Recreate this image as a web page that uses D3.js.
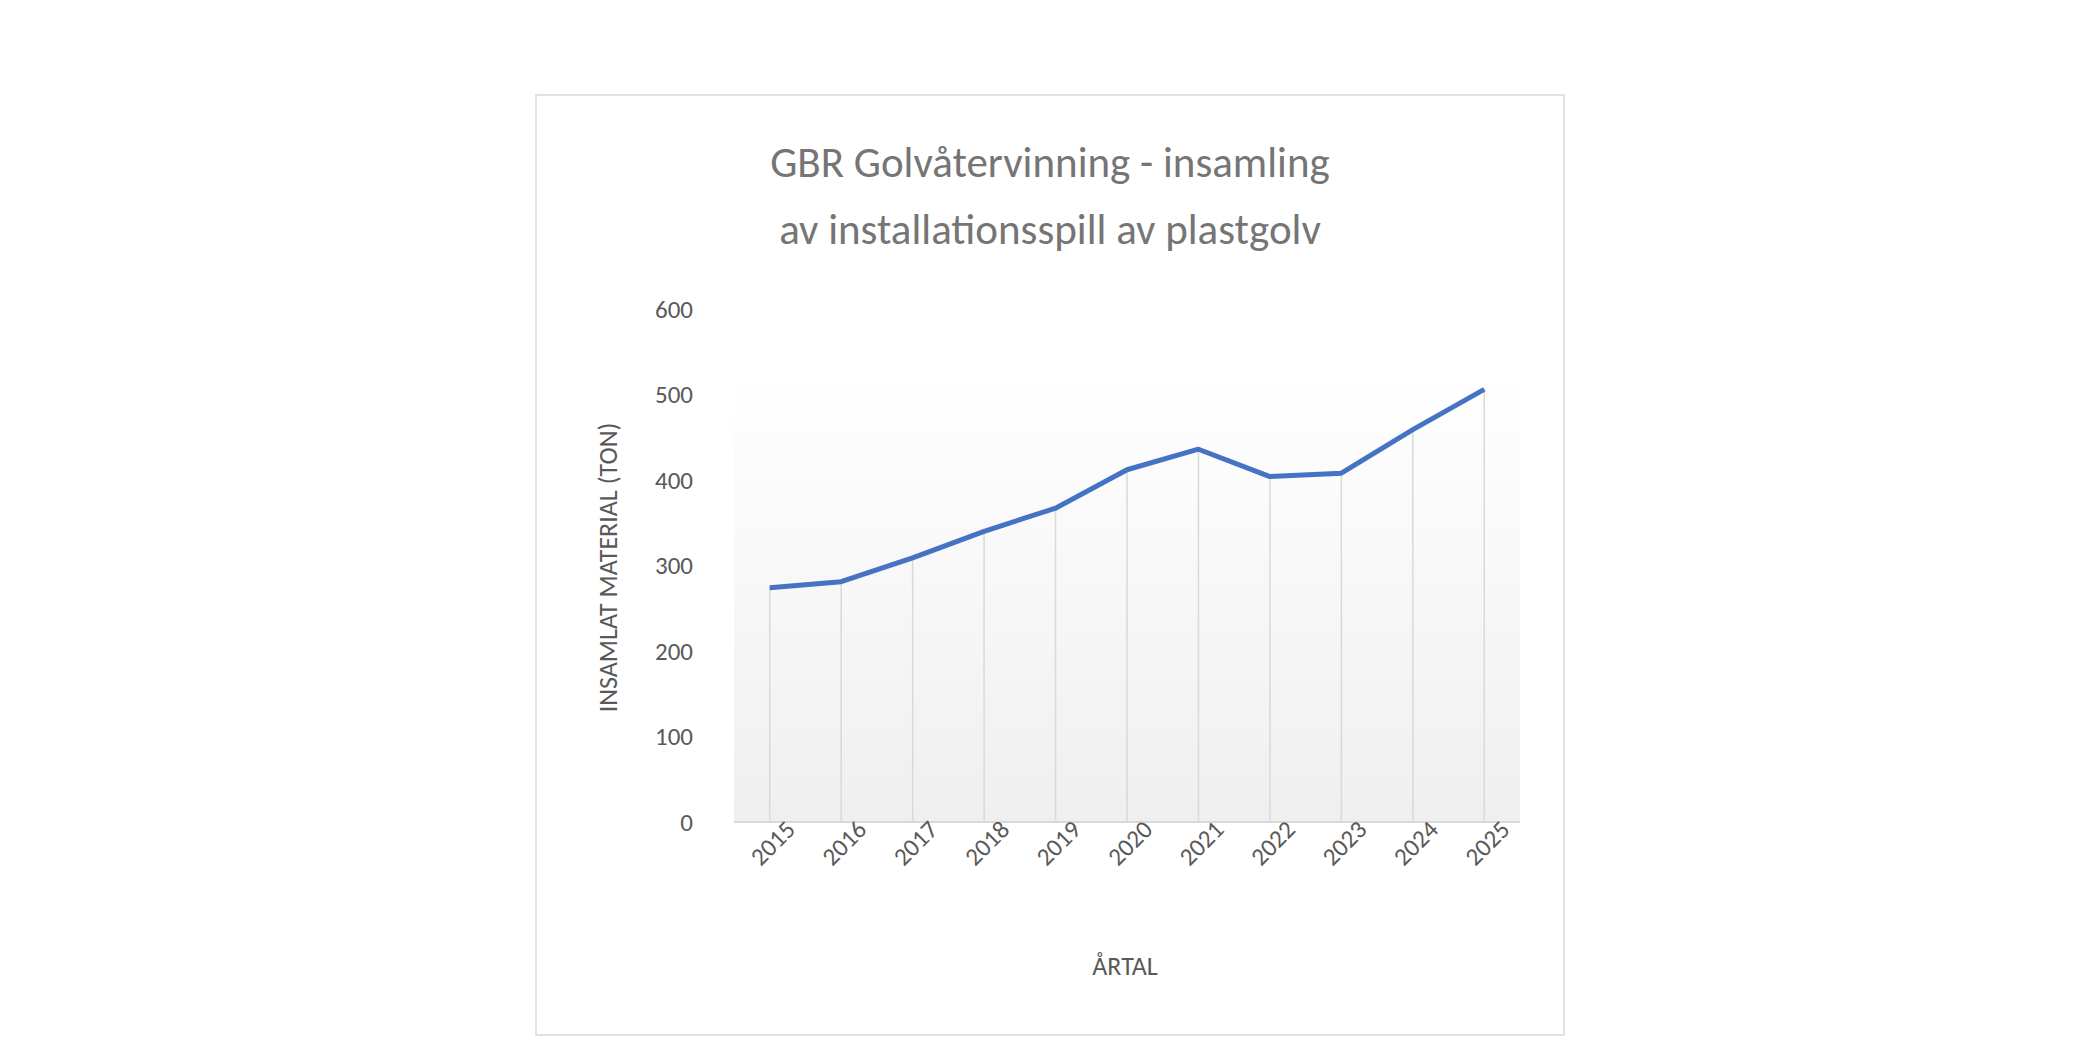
<!DOCTYPE html>
<html><head><meta charset="utf-8">
<script src="https://cdn.jsdelivr.net/npm/d3@7"></script>
<style>body{margin:0;background:#fff}text{font-family:Calibri,Carlito,"Open Sans",sans-serif}</style>
</head><body>
<svg id="chart" width="2100" height="1050"></svg>
<script>
const years = ["2015","2016","2017","2018","2019","2020","2021","2022","2023","2024","2025"];
const tons = [274, 281, 309, 340, 367, 412, 436, 404, 408, 459, 506];
const yTicks = [0, 100, 200, 300, 400, 500, 600];
const titleLines = ["GBR Golvåtervinning - insamling", "av installationsspill av plastgolv"];

const svg = d3.select("#chart");
const plotLeft = 734, plotRight = 1520, plotTop = 309, plotBottom = 822;

svg.append("rect").attr("x", 536).attr("y", 95).attr("width", 1028).attr("height", 940)
    .attr("fill", "#fff").attr("stroke", "#d9d9d9").attr("stroke-width", 1.5);

const x = d3.scaleBand().domain(years).range([plotLeft, plotRight]);
const y = d3.scaleLinear().domain([0, 600]).range([plotBottom, plotTop]);

const defs = svg.append("defs");
const grad = defs.append("linearGradient").attr("id", "bg").attr("x1", 0).attr("y1", 0).attr("x2", 0).attr("y2", 1);
grad.append("stop").attr("offset", "0%").attr("stop-color", "#ffffff");
grad.append("stop").attr("offset", "100%").attr("stop-color", "#efefef");

svg.append("rect").attr("x", plotLeft).attr("y", y(520)).attr("width", plotRight - plotLeft)
    .attr("height", plotBottom - y(520)).attr("fill", "url(#bg)");

// drop lines
svg.selectAll(".drop").data(years).join("line")
    .attr("x1", d => x(d) + x.bandwidth() / 2).attr("x2", d => x(d) + x.bandwidth() / 2)
    .attr("y1", plotBottom).attr("y2", (d, i) => y(tons[i]))
    .attr("stroke", "#d9d9d9").attr("stroke-width", 1.5);

svg.append("line").attr("x1", plotLeft).attr("x2", plotRight).attr("y1", plotBottom).attr("y2", plotBottom)
    .attr("stroke", "#d9d9d9").attr("stroke-width", 2);

const yAxis = svg.append("g").attr("transform", `translate(${plotLeft - 38},0)`)
    .call(d3.axisLeft(y).tickValues(yTicks).tickSize(0));
yAxis.select(".domain").remove();
yAxis.selectAll("text").attr("font-size", 25).attr("fill", "#595959");

const xAxis = svg.append("g").attr("transform", `translate(0,${plotBottom + 14})`)
    .call(d3.axisBottom(x).tickSize(0));
xAxis.select(".domain").remove();
xAxis.selectAll("text").attr("font-size", 25).attr("fill", "#595959")
    .attr("text-anchor", "end").attr("dy", "0.5em").attr("dx", "0.9em")
    .attr("transform", "rotate(-45)");

const line = d3.line().x((d, i) => x(years[i]) + x.bandwidth() / 2).y(d => y(d));
svg.append("path").datum(tons).attr("d", line).attr("fill", "none")
    .attr("stroke", "#4472c4").attr("stroke-width", 5).attr("stroke-linejoin", "round");

svg.selectAll(".title").data(titleLines).join("text")
    .attr("x", 1050).attr("y", (d, i) => 177 + i * 67).attr("text-anchor", "middle")
    .attr("font-size", 43).attr("fill", "#757575").text(d => d);

svg.append("text").attr("x", 1125).attr("y", 975).attr("text-anchor", "middle")
    .attr("font-size", 26).attr("fill", "#595959").text("ÅRTAL");

svg.append("text").attr("transform", `translate(617,${(plotTop + plotBottom) / 2 + 2}) rotate(-90)`)
    .attr("text-anchor", "middle").attr("font-size", 26).attr("fill", "#595959")
    .text("INSAMLAT MATERIAL (TON)");
</script>
</body></html>
